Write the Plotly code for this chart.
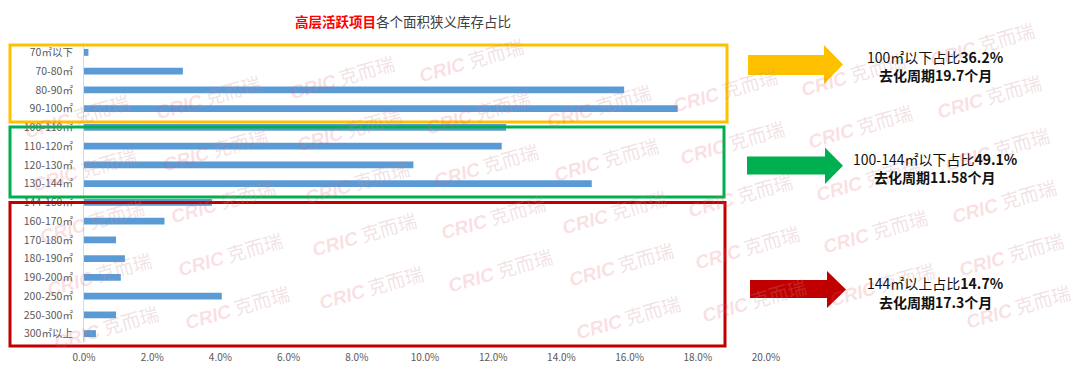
import plotly.graph_objects as go

# ---------------- data ----------------
categories = ["70㎡以下", "70-80㎡", "80-90㎡", "90-100㎡",
              "100-110㎡", "110-120㎡", "120-130㎡", "130-144㎡",
              "144-160㎡", "160-170㎡", "170-180㎡", "180-190㎡",
              "190-200㎡", "200-250㎡", "250-300㎡", "300㎡以上"]
shares = [0.0013, 0.0290, 0.1584, 0.1741,
          0.1238, 0.1225, 0.0966, 0.1489,
          0.0375, 0.0236, 0.0094, 0.0120,
          0.0108, 0.0404, 0.0094, 0.0035]
x_ticks = [0.0, 0.02, 0.04, 0.06, 0.08, 0.10, 0.12, 0.14, 0.16, 0.18, 0.20]

title_red = "高层活跃项目"
title_rest = "各个面积狭义库存占比"

group_labels = ["100㎡以下占比", "100-144㎡以下占比", "144㎡以上占比"]
group_shares = ["36.2%", "49.1%", "14.7%"]
group_cycles = ["19.7", "11.58", "17.3"]
group_colors = ["#FFC000", "#00B050", "#C00000"]

# ---------------- geometry helpers (pixel -> paper) ----------------
W_FIG, H_FIG = 1080, 384
L, R, T, B = 84, 314, 43, 41
PW = W_FIG - L - R
PH = H_FIG - T - B


def px(x):
    return (x - L) / PW


def py(y):
    return (H_FIG - B - y) / PH


FONT = "Noto Sans CJK SC"

fig = go.Figure()
fig.add_trace(go.Bar(
    x=shares, y=categories, orientation="h",
    marker=dict(color="#5B9BD5", line=dict(width=0)),
    showlegend=False, hoverinfo="skip",
))

fig.update_layout(
    width=W_FIG, height=H_FIG,
    margin=dict(l=L, r=R, t=T, b=B, pad=0),
    paper_bgcolor="white", plot_bgcolor="white",
    bargap=0.63,
    font=dict(family=FONT),
    xaxis=dict(range=[0, 0.2], tickvals=x_ticks, tickformat=".1%",
               showgrid=False, zeroline=False, showline=False, ticks="",
               tickfont=dict(size=10, color="#595959", family=FONT),
               ticklabelstandoff=7),
    yaxis=dict(type="category", autorange="reversed", showgrid=False,
               zeroline=False, showline=True, linecolor="#D9D9D9", linewidth=1,
               ticks="", tickfont=dict(size=10.5, color="#595959", family=FONT),
               ticklabelstandoff=8),
)

shapes = []
# group boxes (pixel positions of box outlines)
boxes = [(10, 45, 727, 122), (10, 127, 724, 197), (10, 202.5, 725, 346)]
for (x0, y0, x1, y1), c in zip(boxes, group_colors):
    shapes.append(dict(type="rect", xref="paper", yref="paper",
                       x0=px(x0), x1=px(x1), y0=py(y1), y1=py(y0),
                       line=dict(color=c, width=3), fillcolor="rgba(0,0,0,0)",
                       layer="above"))

# arrows: (body start x, head start x, tip x, body top, body bottom, head top, head bottom)
arrows = [(748, 824, 843, 55, 75, 45, 84),
          (747, 825, 843, 156.5, 174.5, 147.5, 184),
          (750, 827, 846, 280, 298, 271, 308)]
for (xa, xh, xt, bt, bb, ht, hb), c in zip(arrows, group_colors):
    ym = (ht + hb) / 2
    pts = [(xa, bt), (xh, bt), (xh, ht), (xt, ym), (xh, hb), (xh, bb), (xa, bb)]
    path = "M " + " L ".join(f"{px(a):.5f},{py(b):.5f}" for a, b in pts) + " Z"
    shapes.append(dict(type="path", xref="paper", yref="paper", path=path,
                       fillcolor=c, line=dict(width=0), layer="above"))
fig.update_layout(shapes=shapes)

annotations = []
# watermark "CRIC 克而瑞" (columns: start x, start y, count)
wm_cols = [(21, 140, 5), (152, 120, 5), (286, 100, 5), (415, 83, 5),
           (543, 130, 5), (669, 113, 5), (797, 97, 5), (926, 67, 6)]
for (cx, cy, n) in wm_cols:
    for j in range(n):
        x0 = cx + 7.3 * j
        y0 = cy + 52.5 * j
        annotations.append(dict(
            xref="paper", yref="paper", x=px(x0 + 56), y=py(y0 - 24),
            xanchor="center", yanchor="middle", showarrow=False, textangle=-16,
            text=("<span style='color:rgba(226,90,110,0.20);font-family:Liberation Sans'>"
                  "<b><i>CRIC</i></b></span> "
                  "<span style='color:rgba(200,140,150,0.26)'>克而瑞</span>"),
            font=dict(size=19, family=FONT),
        ))

# title
annotations.append(dict(
    xref="paper", yref="paper", x=px(403), y=py(20.5), xanchor="center", yanchor="middle",
    showarrow=False,
    text=f"<span style='color:#FF0000'><b>{title_red}</b></span>"
         f"<span style='color:#404040'>{title_rest}</span>",
    font=dict(size=13.5, family=FONT),
))

# right-hand summaries
text_rows = [(56.5, 75), (158.5, 177), (283, 302)]
for (y1, y2), lab, sh, cyc in zip(text_rows, group_labels, group_shares, group_cycles):
    annotations.append(dict(
        xref="paper", yref="paper", x=px(935), y=py(y1), xanchor="center", yanchor="middle",
        showarrow=False, text=f"{lab}<b>{sh}</b>",
        font=dict(size=14, color="#111111", family=FONT)))
    annotations.append(dict(
        xref="paper", yref="paper", x=px(935), y=py(y2), xanchor="center", yanchor="middle",
        showarrow=False, text=f"<b>去化周期{cyc}个月</b>",
        font=dict(size=14, color="#111111", family=FONT)))

fig.update_layout(annotations=annotations)

fig.write_html("out.html", config={"displayModeBar": False},
               post_script="document.body.style.margin='0';document.body.style.overflow='hidden';")
